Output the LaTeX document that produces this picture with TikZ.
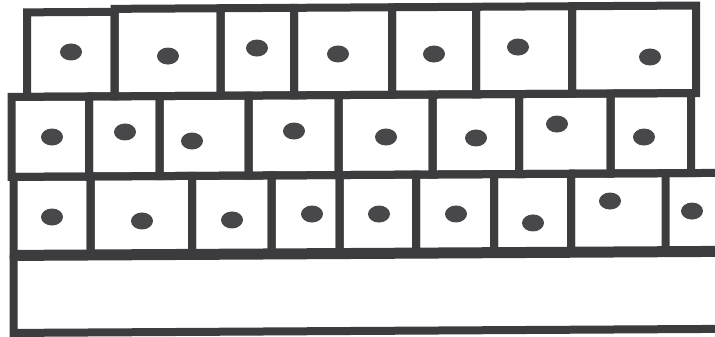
\documentclass[tikz,border=0pt]{standalone}
\definecolor{wallc}{RGB}{60,60,62}
\definecolor{nucc}{RGB}{72,72,74}
\tikzset{
  wall/.style={draw=wallc, line width=8pt, line join=miter},
  nuc/.style={fill=nucc, draw=none},
}
\begin{document}
\begin{tikzpicture}[x=1pt,y=-1pt]
\useasboundingbox (0,0) rectangle (715,337);
\begin{scope}[yslant=0.0057]
% row 1
\draw[wall] (27,12.5) rectangle (114.5,97);
\foreach \a/\b in {114.5/220.5, 220.5/294, 294/392, 392/476, 476/572, 572/696}
  \draw[wall] (\a,9.5) rectangle (\b,97);
% row 2
\foreach \a/\b in {11.5/89, 89/159.5, 159.5/248.5, 248.5/338.5, 338.5/432.5, 432.5/519, 519/610.5, 610.5/691}
  \draw[wall] (\a,97) rectangle (\b,177);
% row 3
\foreach \a/\b in {13.5/90.5, 90.5/192, 192/271.5, 271.5/339.5, 339.5/416, 416/494, 494/571, 571/665.5}
  \draw[wall] (\a,177) rectangle (\b,255.5);
\draw[wall] (665.5,177) -- (722,177);
% basal layer
\draw[wall, line width=11pt] (722,255.5) -- (13.5,255.5);
\draw[wall] (13.5,255.5) -- (13.5,333) -- (722,333);
% nuclei
\foreach \x/\y in {71/52.4, 168/57, 257/49.5, 338/55.9, 434/56.5, 518/50, 650/60.7,
                   52/137.3, 125/132.7, 192/142.1, 294/132.7, 386/139.2, 476/140.7, 557/127.2, 644/140.7,
                   52/217.3, 142/221.8, 232/221.3, 312/215.8, 379/216.2, 456/216.6, 533/226, 610/204.5, 692/215}
  \fill[nuc] (\x,\y) ellipse [x radius=11, y radius=8.5];
\end{scope}
\end{tikzpicture}
\end{document}
